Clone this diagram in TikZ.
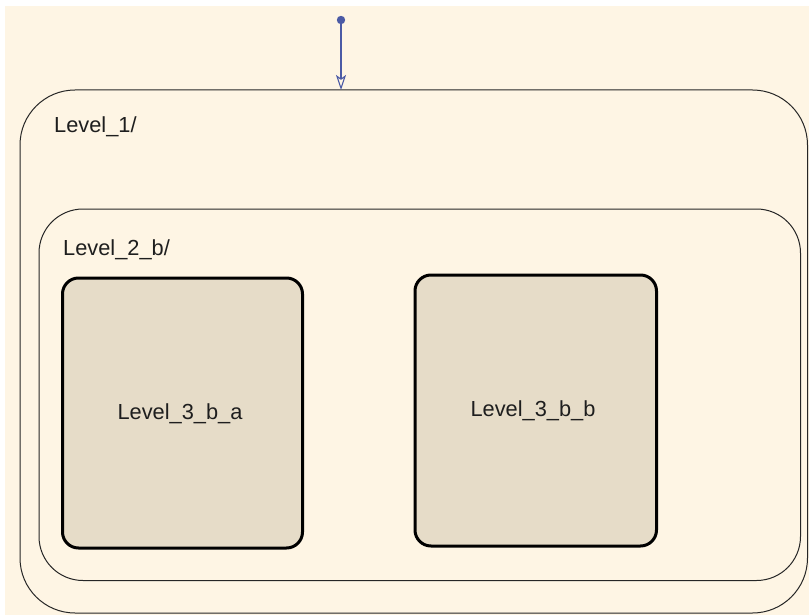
\documentclass[tikz,border=0pt]{standalone}
\usepackage{fontspec}
\setmainfont{Liberation Sans}
\usetikzlibrary{arrows.meta}
\definecolor{bgcream}{HTML}{FEF5E4}
\definecolor{statefill}{HTML}{E6DCC8}
\definecolor{trblue}{HTML}{4B5AA5}
\definecolor{txt}{HTML}{1E1E1E}
\tikzset{
  superstate/.style={draw=black!85, line width=1pt, fill=none, inner sep=0pt},
  leafstate/.style={draw=black, line width=3pt, fill=statefill, rounded corners=16pt, inner sep=0pt},
  lbl/.style={font=\fontsize{21.8pt}{24pt}\selectfont, text=txt, inner sep=0pt},
  trans/.style={draw=trblue, line width=1.1pt, -{Stealth[open, length=15pt, width=10pt, inset=3.5pt]}}
}
\begin{document}
\begin{tikzpicture}[x=1pt,y=-1pt]
\useasboundingbox (0,0) rectangle (809,615);
\fill[white] (0,0) rectangle (809,615);
\fill[bgcream] (5,6) rectangle (809,615);
% Level_1
\draw[superstate, rounded corners=55pt] (20,90) rectangle (807.5,613);
\coordinate (L1top) at (341,90);
% Level_2_b
\draw[superstate, rounded corners=44pt] (39,209) rectangle (800.5,580.5);
% leaf states
\node[leafstate, minimum width=240pt, minimum height=270pt] (A) at (182.5,413) {};
\node[leafstate, minimum width=241.5pt, minimum height=271pt] (B) at (535.75,410.5) {};
% labels
\node[lbl, anchor=base west] (t1) at (54,132.7) {Level\_1/};
\node[lbl, anchor=base west] (t2) at (63,255) {Level\_2\_b/};
\node[lbl, anchor=base] (ta) at (180,419) {Level\_3\_b\_a};
\node[lbl, anchor=base] (tb) at (533,416.7) {Level\_3\_b\_b};
% initial transition
\coordinate (init) at (341,20);
\fill[trblue] (init) circle (4.2pt);
\draw[trans] (init) -- (L1top);
\end{tikzpicture}
\end{document}
